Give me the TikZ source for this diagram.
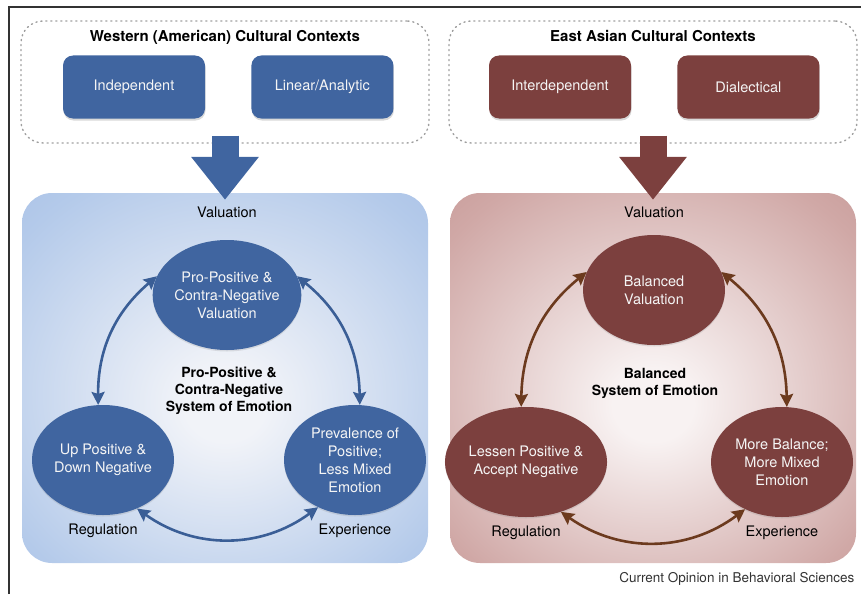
\documentclass[tikz,border=0pt]{standalone}
\usepackage{fontspec}
\setmainfont{TeX Gyre Heros}
\usepackage{tikz}
\usetikzlibrary{positioning}
\usetikzlibrary{arrows.meta}
\usetikzlibrary{shapes.geometric}
\usetikzlibrary{shadows}
\definecolor{wfill}{RGB}{64,101,160}
\definecolor{warrow}{RGB}{58,94,150}
\definecolor{wpanelin}{RGB}{241,243,248}
\definecolor{wpanelmid}{RGB}{180,202,234}
\definecolor{wpanelout}{RGB}{160,186,226}
\definecolor{efill}{RGB}{124,64,62}
\definecolor{earrow}{RGB}{108,58,30}
\definecolor{epanelin}{RGB}{248,242,242}
\definecolor{epanelmid}{RGB}{208,168,166}
\definecolor{epanelout}{RGB}{190,142,140}
% soft glows for the two panels
\pgfdeclareradialshading{westglow}{\pgfpoint{0bp}{-4bp}}{color(0bp)=(wpanelin); color(5bp)=(wpanelin); color(32bp)=(wpanelmid); color(46bp)=(wpanelout); color(50bp)=(wpanelout)}
\pgfdeclareradialshading{eastglow}{\pgfpoint{0bp}{-4bp}}{color(0bp)=(epanelin); color(5bp)=(epanelin); color(32bp)=(epanelmid); color(46bp)=(epanelout); color(50bp)=(epanelout)}

\begin{document}
\begin{tikzpicture}[x=1pt, y=-1pt, font=\fontsize{14.5}{18}\selectfont]
    \tikzstyle{context}=[draw=gray!75, line width=1.4pt, dash pattern=on 1.2pt off 3.8pt, line cap=round, rounded corners=22pt, minimum width=408pt, minimum height=122pt, inner sep=0pt]
    \tikzstyle{heading}=[font=\fontsize{15}{18}\selectfont\bfseries, inner sep=0pt]
    \tikzstyle{cbox}=[rectangle, rounded corners=10pt, minimum width=142pt, minimum height=63pt, text=white!92!gray, drop shadow={opacity=0.3, shadow xshift=0.5pt, shadow yshift=-2pt}]
    \tikzstyle{panel}=[rectangle, rounded corners=30pt, minimum width=406pt, minimum height=370pt, inner sep=0pt, shade]
    \tikzstyle{circ}=[ellipse, minimum width=142pt, minimum height=110pt, inner sep=0pt, align=center, text=white!92!gray, drop shadow={opacity=0.2, shadow xshift=0pt, shadow yshift=-1.5pt}]
    \tikzstyle{bigarrow}=[line width=27pt, -{Triangle[length=43pt, width=65pt]}]
    \tikzstyle{cycle}=[{Stealth[length=13pt, width=13pt, inset=2pt]}-{Stealth[length=13pt, width=13pt, inset=2pt]}, line width=2.6pt]
    \tikzstyle{label}=[inner sep=0pt]
    \tikzstyle{system}=[font=\fontsize{14}{17}\selectfont\bfseries, align=center]

    \useasboundingbox (0,0) rectangle (861,594);
    % frame
    \draw[line width=1.3pt, black!80] (9,594) -- (9,7) -- (861,7);

    % western side
    \node[context] (ctxW) at (225,82) {};
    \node[heading, below=10pt of ctxW.north] {Western (American) Cultural Contexts};
    \node[cbox, fill=wfill] (indep) at (134,87) {Independent};
    \node[cbox, fill=wfill, right=46pt of indep] (linear) {Linear/Analytic};

    \node[panel, shading=westglow] (sysW) at (225,378) {};
    \draw[bigarrow, wfill] ([yshift=8pt]ctxW.south) -- ([yshift=-7pt]sysW.north);

    \node[circ, fill=wfill] (valW) at (227,295) {Pro-Positive \&\\Contra-Negative\\Valuation};
    \node[circ, fill=wfill] (regW) at (103,460) {Up Positive \&\\Down Negative};
    \node[circ, fill=wfill] (expW) at (355,460) {Prevalence of\\Positive;\\Less Mixed\\Emotion};

    \node[label, above=22pt of valW] {Valuation};
    \node[label, below=9pt of regW] {Regulation};
    \node[label, below=9pt of expW] {Experience};
    \node[system] at (229,391) {Pro-Positive \&\\Contra-Negative\\System of Emotion};

    \draw[cycle, warrow] (valW.165) to[bend right=25] (regW.95);
    \draw[cycle, warrow] (valW.15) to[bend left=25] (expW.85);
    \draw[cycle, warrow] (regW.-55) to[bend right=36] (expW.-128);

    % east asian side
    \node[context] (ctxE) at (653,82) {};
    \node[heading, below=10pt of ctxE.north] {East Asian Cultural Contexts};
    \node[cbox, fill=efill] (inter) at (560,87) {Interdependent};
    \node[cbox, fill=efill, right=46pt of inter] (dialec) {Dialectical};

    \node[panel, shading=eastglow] (sysE) at (653,378) {};
    \draw[bigarrow, efill] ([yshift=8pt]ctxE.south) -- ([yshift=-7pt]sysE.north);

    \node[circ, fill=efill] (valE) at (654,290) {Balanced\\Valuation};
    \node[circ, fill=efill] (regE) at (526,462) {Lessen Positive \&\\Accept Negative};
    \node[circ, fill=efill] (expE) at (782,462) {More Balance;\\More Mixed\\Emotion};

    \node[label, above=17pt of valE] {Valuation};
    \node[label, below=9pt of regE] {Regulation};
    \node[label, below=9pt of expE] {Experience};
    \node[system] at (655,383) {Balanced\\System of Emotion};

    \draw[cycle, earrow] (valE.165) to[bend right=25] (regE.95);
    \draw[cycle, earrow] (valE.15) to[bend left=25] (expE.85);
    \draw[cycle, earrow] (regE.-55) to[bend right=36] (expE.-128);

    \node[anchor=east, font=\fontsize{13.5}{16}\selectfont, text=black!80] at (858,579) {Current Opinion in Behavioral Sciences};
\end{tikzpicture}
\end{document}
